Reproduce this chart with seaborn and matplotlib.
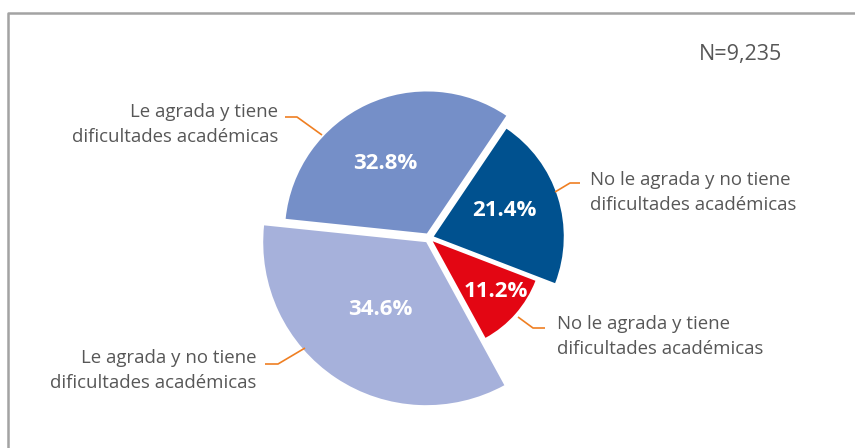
import numpy as np
import seaborn as sns
import matplotlib.pyplot as plt

# data
labels = ["No le agrada y no tiene\ndificultades académicas",
          "No le agrada y tiene\ndificultades académicas",
          "Le agrada y no tiene\ndificultades académicas",
          "Le agrada y tiene\ndificultades académicas"]
shares = [21.4, 11.2, 34.6, 32.8]
n_total = "N=9,235"

colors = ["#00518f", "#e30613", "#a6b1db", "#758fc8"]
radii = [130, 110, 163, 142]          # each slice has its own radius
leader_color = "#ef7f22"
text_color = "#575757"

sns.set_theme(style="white")
plt.rcParams['font.family'] = ['Open Sans', 'DejaVu Sans']

W, H = 855, 448
fig = plt.figure(figsize=(W / 100, H / 100), dpi=100)
ax = fig.add_axes([0, 0, 1, 1])


def iy(y):
    # image row -> data y
    return H - y


wedges, _ = ax.pie(shares, colors=colors, startangle=56, counterclock=False,
                   radius=max(radii), center=(429, iy(238)), explode=[5] * 4,
                   wedgeprops=dict(linewidth=0), frame=True)
for w, r in zip(wedges, radii):
    w.set_radius(r)
ax.set_xlim(0, W)
ax.set_ylim(0, H)
ax.set_aspect('equal')
ax.axis('off')

# percentages inside slices
pct_pos = [(504, 210), (496, 291), (380, 309), (385, 163)]
for v, (x, y) in zip(shares, pct_pos):
    ax.text(x, iy(y), f"{v:.1f}%", color="white", fontsize=16, fontweight="bold",
            ha="center", va="center")

# outer labels with leader lines
label_pos = [(590, 192, "left"), (557, 336, "left"), (256, 370, "right"), (278, 124, "right")]
leaders = [
    [(580, 183), (570, 183), (555, 192)],
    [(545, 328), (533, 328), (518, 317)],
    [(265, 364), (278, 364), (305, 348)],
    [(285, 117), (297, 117), (322, 135)],
]
for lab, (x, y, ha), pts in zip(labels, label_pos, leaders):
    ax.text(x, iy(y), lab, color=text_color, fontsize=13.4, ha=ha, va="center",
            linespacing=1.5)
    xs, ys = zip(*pts)
    ax.plot(xs, [iy(v) for v in ys], color=leader_color, lw=1.2, solid_capstyle="butt")

ax.text(740, iy(54), n_total, color=text_color, fontsize=15.5, ha="center", va="center")

# grey frame
ax.plot([8, 8, W + 5], [-5, iy(13), iy(13)], color="#a3a3a3", lw=1.8, clip_on=False)

fig.savefig("out.png", dpi=100)
